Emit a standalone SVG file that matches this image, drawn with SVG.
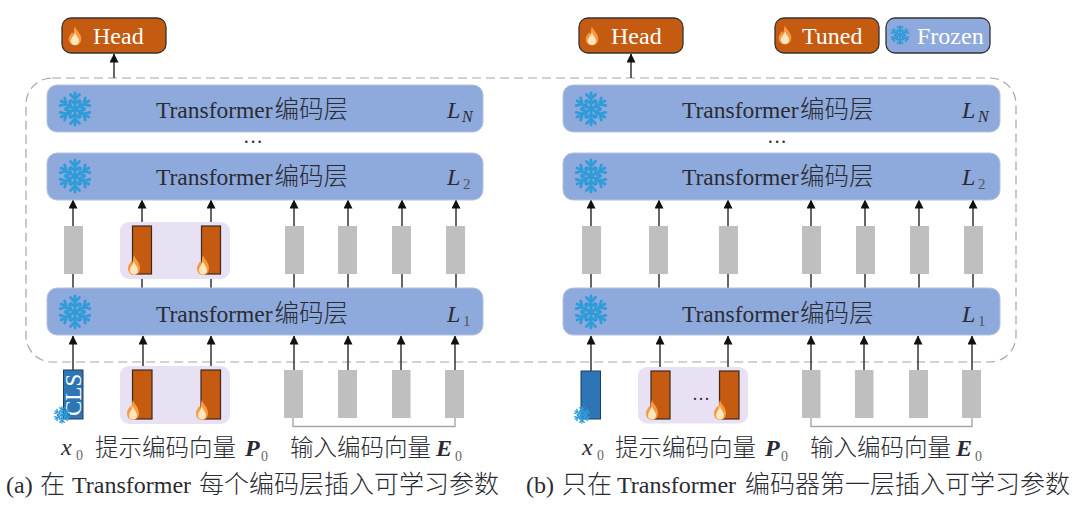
<svg xmlns="http://www.w3.org/2000/svg" xmlns:xlink="http://www.w3.org/1999/xlink" width="1080" height="514" viewBox="0 0 1080 514">
<style>
text{font-family:"Liberation Serif","Noto Sans CJK SC",serif;fill:#2b2b33}
.layer{fill:#8ea9db;stroke:#b4c2dd;stroke-width:1}
.lt{font-size:23.500px}
.cj{font-size:24.500px;font-family:"Noto Sans CJK SC",sans-serif;font-weight:300}
.wh{fill:#fff;font-size:24px}
.it{font-style:italic;font-size:24px}
.sub{font-size:15px;fill:#555}
.subl{font-size:14px;fill:#666}
.subi{font-size:16px;font-style:italic}
.lab{font-size:23.500px;font-family:"Noto Sans CJK SC",sans-serif;font-weight:300}
.cap{font-size:25px;font-family:"Noto Sans CJK SC",sans-serif;font-weight:300}
.capl{font-size:24px}
.b{font-weight:bold}
.or{fill:#c55a11;stroke:#3a2a20;stroke-width:1.2}
.gr{fill:#bfbfbf}
.li{fill:#e8e0f3}
.bl{fill:#2e75b6;stroke:#1f3d5c;stroke-width:1}
.tag{stroke:#333;stroke-width:1.3}
.ar{stroke:#333;stroke-width:1.5;fill:none;marker-end:url(#ah)}
.ln{stroke:#333;stroke-width:1.5;fill:none}
.dash{fill:none;stroke:#a6a6a6;stroke-width:1.2;stroke-dasharray:9 5}
.br{fill:none;stroke:#a6a6a6;stroke-width:1.4}
</style>
<defs>
<marker id="ah" markerWidth="10" markerHeight="10" refX="8.500" refY="4.500" orient="auto" markerUnits="userSpaceOnUse"><path d="M0 0L9 4.500L0 9Z" fill="#111"/></marker>
<g id="snow" stroke="#2f9bd8" stroke-width="2.800" fill="none" stroke-linecap="round">
<path id="arm" d="M0 0V-16M-4.500 -14.500L0 -10L4.500 -14.500M-4 -8.500L0 -5L4 -8.500"/>
<use xlink:href="#arm" transform="rotate(60)"/><use xlink:href="#arm" transform="rotate(120)"/><use xlink:href="#arm" transform="rotate(180)"/><use xlink:href="#arm" transform="rotate(240)"/><use xlink:href="#arm" transform="rotate(300)"/>
</g>
<g id="fire"><path d="M0 -10C1 -6 6 -3 6 3C6 8 3 10 0 10C-3 10 -6 8 -6 3C-6 0 -4 -1 -3 -4C-2 -3 -1.500 -2 -1.500 -2C-1 -5 -1 -8 0 -10Z" fill="#f59a3e"/><path d="M0 -4C1 0 4 2 4 5.500C4 8 2 9.500 0 9.500C-2 9.500 -4 8 -4 5.500C-4 2 -1 0 0 -4Z" fill="#fde6c0"/></g>
</defs>

<rect id="outer-boundary" class="dash" x="26" y="78" width="990" height="284" rx="26"/>

<g id="connectors">
<path class="ar" d="M114 78V54"/>
<path class="ar" d="M631 78V54"/>
<path class="ln" d="M73 288V274M142 288V274M211 288V274M294 288V274M348 288V274M402 288V274M456 288V274"/>
<path class="ar" d="M73 226V200"/><path class="ar" d="M142 226V200"/><path class="ar" d="M211 226V200"/><path class="ar" d="M294 226V200"/><path class="ar" d="M348 226V200"/><path class="ar" d="M402 226V200"/><path class="ar" d="M456 226V200"/>
<path class="ar" d="M73 370V336"/><path class="ar" d="M143 370V336"/><path class="ar" d="M211 370V336"/><path class="ar" d="M294 370V336"/><path class="ar" d="M348 370V336"/><path class="ar" d="M401 370V336"/><path class="ar" d="M455 370V336"/>
<path class="br" d="M293 418V426.500H455V418"/>
<path class="ln" d="M591 288V274M659 288V274M728 288V274M811 288V274M865 288V274M919 288V274M973 288V274"/>
<path class="ar" d="M591 226V200"/><path class="ar" d="M659 226V200"/><path class="ar" d="M728 226V200"/><path class="ar" d="M811 226V200"/><path class="ar" d="M865 226V200"/><path class="ar" d="M919 226V200"/><path class="ar" d="M973 226V200"/>
<path class="ar" d="M591 371V336"/><path class="ar" d="M660 371V336"/><path class="ar" d="M728 371V336"/><path class="ar" d="M811 371V336"/><path class="ar" d="M864 371V336"/><path class="ar" d="M918 371V336"/><path class="ar" d="M972 371V336"/>
<path class="br" d="M811 418V426.500H972V418"/>
</g>

<g id="head-a"><rect class="tag" x="62" y="18" width="104" height="35" rx="9" fill="#c55a11"/><use xlink:href="#fire" transform="translate(75,36) scale(1.050,.95)"/><text class="wh" x="93" y="44">Head</text></g>
<g id="head-b"><rect class="tag" x="579" y="18" width="104" height="35" rx="9" fill="#c55a11"/><use xlink:href="#fire" transform="translate(592,36) scale(1.050,.95)"/><text class="wh" x="611" y="44">Head</text></g>
<g id="legend-tuned"><rect class="tag" x="775" y="18" width="104" height="35" rx="9" fill="#c55a11"/><use xlink:href="#fire" transform="translate(785,35) scale(1.050,.95)"/><text class="wh" x="802" y="44">Tuned</text></g>
<g id="legend-frozen"><rect class="tag" x="886" y="18" width="104" height="35" rx="9" fill="#8ea9db"/><use xlink:href="#snow" transform="translate(900,35) scale(.58)"/><text class="wh" x="917" y="44">Frozen</text></g>

<g id="layer-a-n"><rect class="layer" x="47" y="85" width="436" height="47" rx="10"/><use xlink:href="#snow" transform="translate(75,109)"/><text class="lt" x="156" y="118">Transformer</text><text class="cj" x="274.500" y="118">编码层</text><text class="it" x="447" y="118">L</text><text class="subi" x="462" y="122">N</text></g>
<g id="layer-a-2"><rect class="layer" x="47" y="153" width="436" height="47" rx="10"/><use xlink:href="#snow" transform="translate(75,176)"/><text class="lt" x="156" y="185">Transformer</text><text class="cj" x="274.500" y="185">编码层</text><text class="it" x="447" y="185">L</text><text class="sub" x="463" y="189">2</text></g>
<g id="layer-a-1"><rect class="layer" x="47" y="288" width="436" height="47" rx="10"/><use xlink:href="#snow" transform="translate(75,312)"/><text class="lt" x="156" y="322">Transformer</text><text class="cj" x="274.500" y="322">编码层</text><text class="it" x="447" y="322">L</text><text class="sub" x="463" y="326">1</text></g>
<g id="layer-b-n"><rect class="layer" x="563" y="85" width="437" height="47" rx="10"/><use xlink:href="#snow" transform="translate(591,109)"/><text class="lt" x="682" y="118">Transformer</text><text class="cj" x="800" y="118">编码层</text><text class="it" x="962" y="118">L</text><text class="subi" x="978" y="122">N</text></g>
<g id="layer-b-2"><rect class="layer" x="563" y="153" width="437" height="47" rx="10"/><use xlink:href="#snow" transform="translate(591,176)"/><text class="lt" x="682" y="185">Transformer</text><text class="cj" x="800" y="185">编码层</text><text class="it" x="962" y="185">L</text><text class="sub" x="978" y="189">2</text></g>
<g id="layer-b-1"><rect class="layer" x="563" y="288" width="437" height="47" rx="10"/><use xlink:href="#snow" transform="translate(591,312)"/><text class="lt" x="682" y="322">Transformer</text><text class="cj" x="800" y="322">编码层</text><text class="it" x="962" y="322">L</text><text class="sub" x="978" y="326">1</text></g>
<text id="dots-a" x="243" y="149" style="font-size:20px">···</text>
<text id="dots-b" x="767" y="149" style="font-size:20px">···</text>

<g id="upper-a">
<rect class="gr" x="64" y="226" width="19" height="48"/>
<rect class="li" x="120" y="222" width="110" height="57" rx="9"/>
<rect class="or" x="132.500" y="226" width="19" height="48"/><use xlink:href="#fire" transform="translate(134,265)"/>
<rect class="or" x="201.500" y="226" width="19" height="48"/><use xlink:href="#fire" transform="translate(203,265)"/>
<rect class="gr" x="285" y="226" width="19" height="48"/><rect class="gr" x="338" y="226" width="19" height="48"/><rect class="gr" x="392" y="226" width="19" height="48"/><rect class="gr" x="446" y="226" width="19" height="48"/>
</g>
<g id="upper-b">
<rect class="gr" x="582" y="226" width="19" height="48"/><rect class="gr" x="649" y="226" width="19" height="48"/><rect class="gr" x="719" y="226" width="19" height="48"/>
<rect class="gr" x="802" y="226" width="19" height="48"/><rect class="gr" x="856" y="226" width="19" height="48"/><rect class="gr" x="910" y="226" width="19" height="48"/><rect class="gr" x="964" y="226" width="19" height="48"/>
</g>
<g id="lower-a">
<rect class="bl" x="63.500" y="370" width="19.500" height="49"/>
<text x="0" y="0" transform="translate(81,416) rotate(-90)" style="fill:#fff;font-size:23px">CLS</text>
<use xlink:href="#snow" transform="translate(62,415) scale(.5)"/>
<rect class="li" x="120" y="366" width="110" height="58" rx="9"/>
<rect class="or" x="132.500" y="370" width="19.500" height="49"/><use xlink:href="#fire" transform="translate(133,410)"/>
<rect class="or" x="201" y="370" width="19.500" height="49"/><use xlink:href="#fire" transform="translate(202,410)"/>
<rect class="gr" x="284" y="370" width="19" height="48"/><rect class="gr" x="338" y="370" width="19" height="48"/><rect class="gr" x="392" y="370" width="18.500" height="48"/><rect class="gr" x="445" y="370" width="19" height="48"/>
</g>
<g id="lower-b">
<rect class="bl" x="581" y="371" width="19.500" height="48"/>
<use xlink:href="#snow" transform="translate(582,415) scale(.5)"/>
<rect class="li" x="638" y="367" width="110" height="56.500" rx="9"/>
<rect class="or" x="651" y="371" width="19" height="48"/><use xlink:href="#fire" transform="translate(652,410)"/>
<rect class="or" x="719.500" y="371" width="19.500" height="48"/><use xlink:href="#fire" transform="translate(720,410)"/>
<text x="692" y="405" style="font-size:18px">···</text>
<rect class="gr" x="802" y="370" width="18.500" height="48"/><rect class="gr" x="855" y="370" width="18.500" height="48"/><rect class="gr" x="909" y="370" width="19" height="48"/><rect class="gr" x="962" y="370" width="19" height="48"/>
</g>

<g id="label-a">
<text class="it" x="61" y="455">x</text><text class="subl" x="76" y="460">0</text>
<text class="lab" x="95" y="456">提示编码向量</text>
<text class="it b" x="245" y="456">P</text><text class="subl" x="261" y="461">0</text>
<text class="lab" x="290" y="456">输入编码向量</text>
<text class="it b" x="436" y="456">E</text><text class="subl" x="455" y="461">0</text>
</g>
<g id="label-b">
<text class="it" x="582" y="455">x</text><text class="subl" x="597" y="460">0</text>
<text class="lab" x="615" y="456">提示编码向量</text>
<text class="it b" x="765" y="456">P</text><text class="subl" x="781" y="461">0</text>
<text class="lab" x="810" y="456">输入编码向量</text>
<text class="it b" x="956" y="456">E</text><text class="subl" x="975" y="461">0</text>
</g>
<g id="caption-a"><text class="capl" x="6" y="493">(a)</text><text class="cap" x="40" y="493">在</text><text class="capl" x="72" y="493">Transformer</text><text class="cap" x="199" y="493">每个编码层插入可学习参数</text></g>
<g id="caption-b"><text class="capl" x="526" y="493">(b)</text><text class="cap" x="562" y="493">只在</text><text class="capl" x="617" y="493">Transformer</text><text class="cap" x="745" y="493">编码器第一层插入可学习参数</text></g>
</svg>
